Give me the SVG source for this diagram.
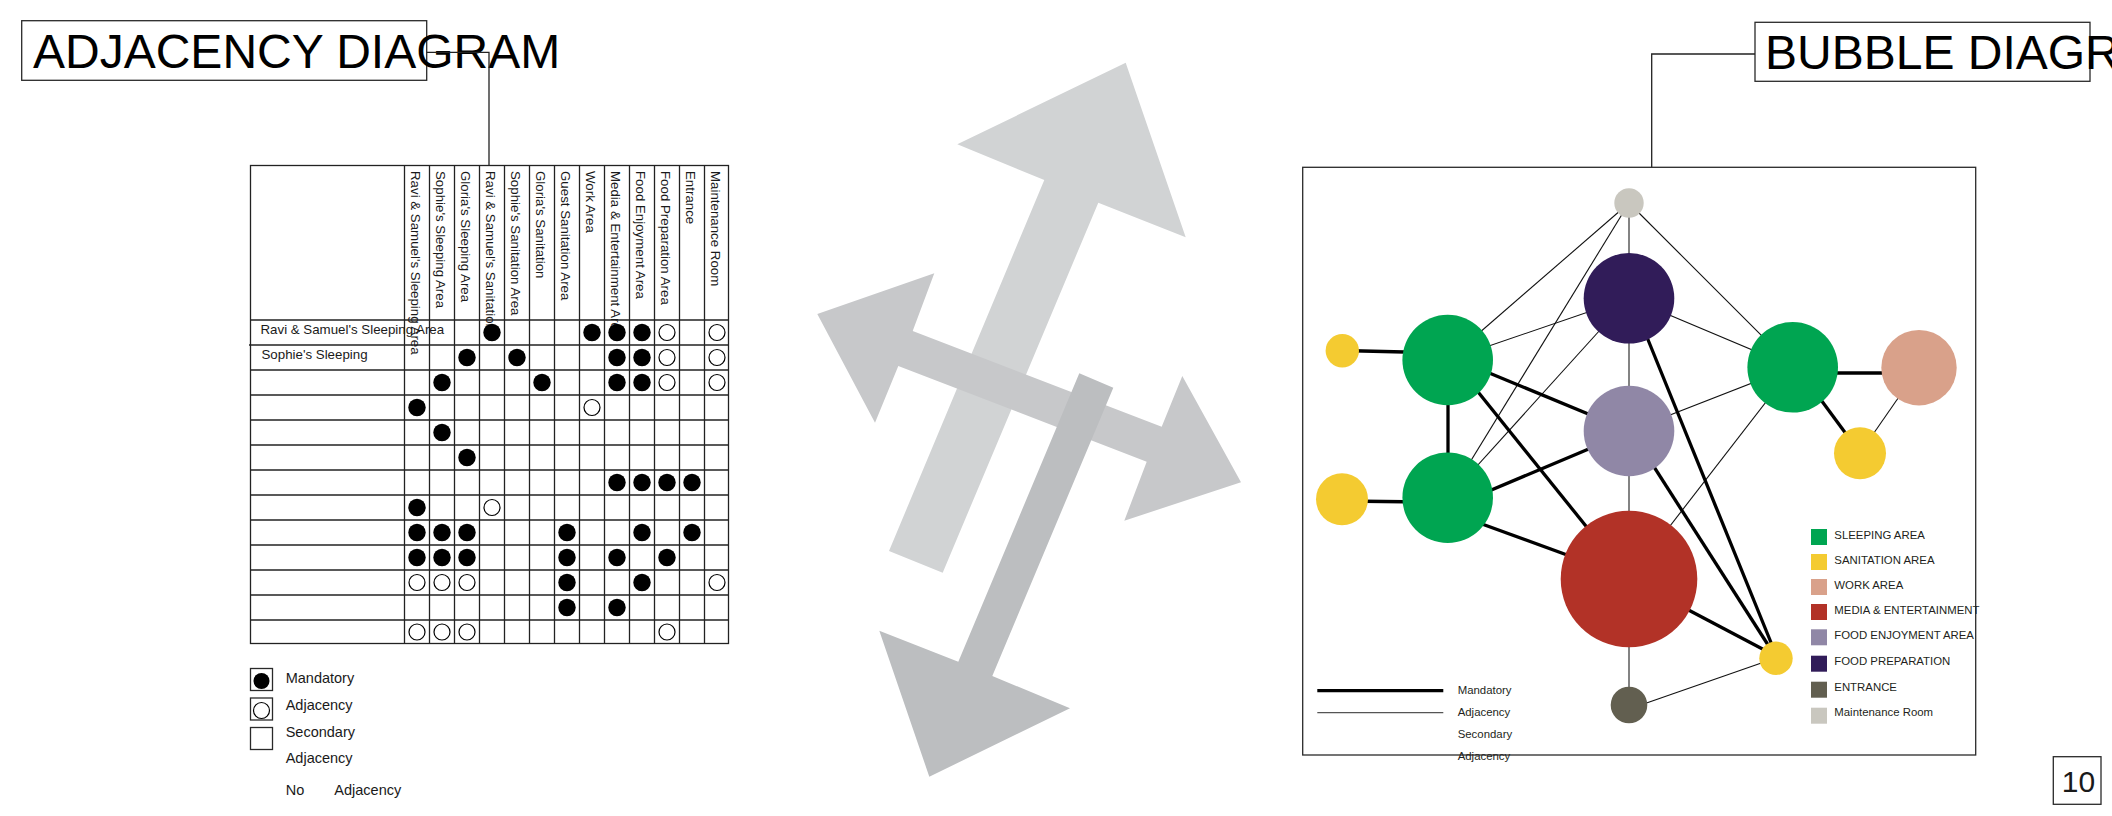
<svg xmlns="http://www.w3.org/2000/svg" width="2112" height="816" viewBox="0 0 2112 816">
<style>
.t{font-family:"Liberation Sans",Arial,Helvetica,sans-serif;fill:#1a1a1a}
.title{font-size:48px;fill:#000}
.sm{font-size:13.3px}
.lg{font-size:14.5px}
.bl{font-size:11.4px;fill:#231f20}
.box{fill:none;stroke:#2a2a2a;stroke-width:1.3}
.grid line{stroke:#222;stroke-width:1.3}
.f{fill:#000}
.o{fill:#fff;stroke:#000;stroke-width:1.2}
.thick{stroke:#000;stroke-width:3.3;fill:none}
.thin{stroke:#111;stroke-width:1.1;fill:none}
.vert{stroke:#5a5a5a;stroke-width:1.5;fill:none}
.sleep{fill:#00a551}.san{fill:#f4cb31}.work{fill:#d9a18a}.media{fill:#b23227}
.enjoy{fill:#9087a6}.prep{fill:#311c59}.entr{fill:#625f50}.maint{fill:#c9c7bf}
</style>
<rect width="2112" height="816" fill="#fff"/>

<!-- ADJACENCY TITLE -->
<g id="adjacency-title">
<rect class="box" x="21.7" y="20.7" width="405" height="59.6" fill="#fff"/>
<text class="t title" x="33" y="67.7">ADJACENCY DIAGRAM</text>
<polyline points="426.7,52.3 489,52.3 489,165.7" fill="none" stroke="#222" stroke-width="1.3"/>
</g>

<!-- ADJACENCY MATRIX -->
<g id="adjacency-matrix">
<g class="grid">
<rect x="250.5" y="165.5" width="478" height="478" fill="none" stroke="#222" stroke-width="1.3"/>
<line x1="404.5" y1="165.5" x2="404.5" y2="643.5"/>
<line x1="429.5" y1="165.5" x2="429.5" y2="643.5"/>
<line x1="454.5" y1="165.5" x2="454.5" y2="643.5"/>
<line x1="479.5" y1="165.5" x2="479.5" y2="643.5"/>
<line x1="504.5" y1="165.5" x2="504.5" y2="643.5"/>
<line x1="529.5" y1="165.5" x2="529.5" y2="643.5"/>
<line x1="554.5" y1="165.5" x2="554.5" y2="643.5"/>
<line x1="579.5" y1="165.5" x2="579.5" y2="643.5"/>
<line x1="604.5" y1="165.5" x2="604.5" y2="643.5"/>
<line x1="629.5" y1="165.5" x2="629.5" y2="643.5"/>
<line x1="654.5" y1="165.5" x2="654.5" y2="643.5"/>
<line x1="679.5" y1="165.5" x2="679.5" y2="643.5"/>
<line x1="704.5" y1="165.5" x2="704.5" y2="643.5"/>
<line x1="250.5" y1="320" x2="728.5" y2="320"/>
<line x1="249" y1="345" x2="728.5" y2="345"/>
<line x1="250.5" y1="370" x2="728.5" y2="370"/>
<line x1="250.5" y1="395" x2="728.5" y2="395"/>
<line x1="250.5" y1="420" x2="728.5" y2="420"/>
<line x1="250.5" y1="445" x2="728.5" y2="445"/>
<line x1="250.5" y1="470" x2="728.5" y2="470"/>
<line x1="250.5" y1="495" x2="728.5" y2="495"/>
<line x1="250.5" y1="520" x2="728.5" y2="520"/>
<line x1="250.5" y1="545" x2="728.5" y2="545"/>
<line x1="250.5" y1="570" x2="728.5" y2="570"/>
<line x1="250.5" y1="595" x2="728.5" y2="595"/>
<line x1="250.5" y1="620" x2="728.5" y2="620"/>
</g>
<g class="t sm">
<text transform="translate(411,171) rotate(90)">Ravi &amp; Samuel's Sleeping Area</text>
<text transform="translate(436,171) rotate(90)">Sophie's Sleeping Area</text>
<text transform="translate(461,171) rotate(90)">Gloria's Sleeping Area</text>
<text transform="translate(486,171) rotate(90)">Ravi &amp; Samuel's Sanitation</text>
<text transform="translate(511,171) rotate(90)">Sophie's Sanitation Area</text>
<text transform="translate(536,171) rotate(90)">Gloria's Sanitation</text>
<text transform="translate(561,171) rotate(90)">Guest Sanitation Area</text>
<text transform="translate(586,171) rotate(90)">Work Area</text>
<text transform="translate(611,171) rotate(90)">Media &amp; Entertainment Area</text>
<text transform="translate(636,171) rotate(90)">Food Enjoyment Area</text>
<text transform="translate(661,171) rotate(90)">Food Preparation Area</text>
<text transform="translate(686,171) rotate(90)">Entrance</text>
<text transform="translate(711,171) rotate(90)">Maintenance Room</text>
<text x="260.5" y="334">Ravi &amp; Samuel's Sleeping Area</text>
<text x="261.5" y="359">Sophie's Sleeping</text>
</g>
<g id="matrix-marks">
<circle class="f" cx="492" cy="332.5" r="8.7"/><circle class="f" cx="592" cy="332.5" r="8.7"/><circle class="f" cx="617" cy="332.5" r="8.7"/><circle class="f" cx="642" cy="332.5" r="8.7"/><circle class="o" cx="667" cy="332.5" r="8"/><circle class="o" cx="717" cy="332.5" r="8"/>
<circle class="f" cx="467" cy="357.5" r="8.7"/><circle class="f" cx="517" cy="357.5" r="8.7"/><circle class="f" cx="617" cy="357.5" r="8.7"/><circle class="f" cx="642" cy="357.5" r="8.7"/><circle class="o" cx="667" cy="357.5" r="8"/><circle class="o" cx="717" cy="357.5" r="8"/>
<circle class="f" cx="442" cy="382.5" r="8.7"/><circle class="f" cx="542" cy="382.5" r="8.7"/><circle class="f" cx="617" cy="382.5" r="8.7"/><circle class="f" cx="642" cy="382.5" r="8.7"/><circle class="o" cx="667" cy="382.5" r="8"/><circle class="o" cx="717" cy="382.5" r="8"/>
<circle class="f" cx="417" cy="407.5" r="8.7"/><circle class="o" cx="592" cy="407.5" r="8"/>
<circle class="f" cx="442" cy="432.5" r="8.7"/>
<circle class="f" cx="467" cy="457.5" r="8.7"/>
<circle class="f" cx="617" cy="482.5" r="8.7"/><circle class="f" cx="642" cy="482.5" r="8.7"/><circle class="f" cx="667" cy="482.5" r="8.7"/><circle class="f" cx="692" cy="482.5" r="8.7"/>
<circle class="f" cx="417" cy="507.5" r="8.7"/><circle class="o" cx="492" cy="507.5" r="8"/>
<circle class="f" cx="417" cy="532.5" r="8.7"/><circle class="f" cx="442" cy="532.5" r="8.7"/><circle class="f" cx="467" cy="532.5" r="8.7"/><circle class="f" cx="567" cy="532.5" r="8.7"/><circle class="f" cx="642" cy="532.5" r="8.7"/><circle class="f" cx="692" cy="532.5" r="8.7"/>
<circle class="f" cx="417" cy="557.5" r="8.7"/><circle class="f" cx="442" cy="557.5" r="8.7"/><circle class="f" cx="467" cy="557.5" r="8.7"/><circle class="f" cx="567" cy="557.5" r="8.7"/><circle class="f" cx="617" cy="557.5" r="8.7"/><circle class="f" cx="667" cy="557.5" r="8.7"/>
<circle class="o" cx="417" cy="582.5" r="8"/><circle class="o" cx="442" cy="582.5" r="8"/><circle class="o" cx="467" cy="582.5" r="8"/><circle class="f" cx="567" cy="582.5" r="8.7"/><circle class="f" cx="642" cy="582.5" r="8.7"/><circle class="o" cx="717" cy="582.5" r="8"/>
<circle class="f" cx="567" cy="607.5" r="8.7"/><circle class="f" cx="617" cy="607.5" r="8.7"/>
<circle class="o" cx="417" cy="632" r="8"/><circle class="o" cx="442" cy="632" r="8"/><circle class="o" cx="467" cy="632" r="8"/><circle class="o" cx="667" cy="632" r="8"/>
</g>
</g>

<!-- ADJACENCY LEGEND -->
<g id="adjacency-legend">
<rect class="box" x="250.5" y="668.5" width="22" height="22"/>
<circle class="f" cx="261.5" cy="681" r="8"/>
<rect class="box" x="250.5" y="698" width="22" height="22"/>
<circle class="o" cx="261.5" cy="710.5" r="8"/>
<rect class="box" x="250.5" y="727.5" width="22" height="22"/>
<g class="t lg">
<text x="285.7" y="683.3">Mandatory</text>
<text x="285.7" y="710">Adjacency</text>
<text x="285.7" y="736.7">Secondary</text>
<text x="285.7" y="763.3">Adjacency</text>
<text x="285.7" y="795">No</text>
<text x="334.3" y="795">Adjacency</text>
</g>
</g>

<!-- CENTRAL ARROWS -->
<g id="arrows">
<polygon id="arrow-up" fill="#d1d3d4" points="1125.7,62.7 1185.7,237.3 1098.3,202.7 942.7,572.7 889,551 1044.3,180 957.3,144.3"/>
<polygon id="arrow-horizontal" fill="#c7c8ca" points="817.3,314 934.3,273.3 912.7,331 1161.7,426.7 1182.3,376 1241,482.3 1124.3,520.7 1146.7,461.7 898.3,366 875,422.7"/>
<polygon id="arrow-down" fill="#bcbec0" points="1079.3,373.3 1113.3,387.7 992.3,676 1070,708.3 929.3,776.7 879.3,630.7 958.3,661.7"/>
</g>

<!-- BUBBLE TITLE -->
<g id="bubble-title">
<rect class="box" x="1755" y="22.3" width="335" height="59" fill="#fff"/>
<text class="t title" x="1765" y="69.3">BUBBLE DIAGRAM</text>
<polyline points="1755,54 1651.7,54 1651.7,167.3" fill="none" stroke="#222" stroke-width="1.3"/>
</g>

<rect id="bubble-frame" class="box" x="1302.7" y="167.3" width="673" height="587.7"/>

<!-- CONNECTORS -->
<g id="connectors">
<line class="thin" x1="1629" y1="203" x2="1448" y2="360"/>
<line class="thin" x1="1629" y1="203" x2="1448" y2="498"/>
<line class="thin" x1="1629" y1="203" x2="1793" y2="367"/>
<line class="vert" x1="1629" y1="203" x2="1629" y2="298"/>
<line class="thin" x1="1629" y1="298" x2="1448" y2="360"/>
<line class="thin" x1="1629" y1="298" x2="1793" y2="367"/>
<line class="thin" x1="1629" y1="298" x2="1448" y2="498"/>
<line class="vert" x1="1629" y1="298" x2="1629" y2="431"/>
<line class="thin" x1="1629" y1="431" x2="1793" y2="367"/>
<line class="vert" x1="1629" y1="431" x2="1629" y2="579"/>
<line class="thin" x1="1629" y1="579" x2="1793" y2="367"/>
<line class="vert" x1="1629" y1="579" x2="1629" y2="705"/>
<line class="thin" x1="1635" y1="707" x2="1770" y2="660"/>
<line class="thin" x1="1919" y1="368" x2="1860" y2="453"/>
<line class="thick" x1="1342" y1="350.5" x2="1425" y2="352.5"/>
<line class="thick" x1="1448" y1="360" x2="1448" y2="498"/>
<line class="thick" x1="1470" y1="365" x2="1610" y2="423"/>
<line class="thick" x1="1450" y1="357" x2="1610" y2="556"/>
<line class="thick" x1="1470" y1="499" x2="1610" y2="440"/>
<line class="thick" x1="1460" y1="516" x2="1600" y2="567"/>
<line class="thick" x1="1342" y1="501" x2="1425" y2="502"/>
<line class="thick" x1="1640" y1="320" x2="1772" y2="645"/>
<line class="thick" x1="1640" y1="445" x2="1770" y2="648"/>
<line class="thick" x1="1660" y1="595" x2="1772" y2="654"/>
<line class="thick" x1="1830" y1="373" x2="1890" y2="373"/>
<line class="thick" x1="1810" y1="385" x2="1855" y2="446"/>
</g>

<!-- BUBBLE NODES -->
<g id="node-maintenance"><circle class="maint" cx="1629" cy="203" r="14.7"/></g>
<g id="node-food-preparation"><circle class="prep" cx="1629" cy="298.3" r="45.3"/></g>
<g id="node-sleeping-1"><circle class="sleep" cx="1447.7" cy="360" r="45.3"/></g>
<g id="node-sanitation-1"><circle class="san" cx="1342.3" cy="350.7" r="16.7"/></g>
<g id="node-sleeping-2"><circle class="sleep" cx="1792.7" cy="367.3" r="45.3"/></g>
<g id="node-work"><circle class="work" cx="1919" cy="367.7" r="37.7"/></g>
<g id="node-sanitation-2"><circle class="san" cx="1860" cy="453.3" r="26"/></g>
<g id="node-food-enjoyment"><circle class="enjoy" cx="1629" cy="431" r="45.3"/></g>
<g id="node-sleeping-3"><circle class="sleep" cx="1447.7" cy="497.7" r="45.3"/></g>
<g id="node-sanitation-3"><circle class="san" cx="1342" cy="499.3" r="26"/></g>
<g id="node-media"><circle class="media" cx="1629" cy="579" r="68.3"/></g>
<g id="node-entrance"><circle class="entr" cx="1629" cy="705" r="18.3"/></g>
<g id="node-sanitation-4"><circle class="san" cx="1776" cy="658.3" r="16.7"/></g>

<!-- BUBBLE LINE LEGEND -->
<g id="bubble-line-legend">
<line class="thick" x1="1317.3" y1="690.7" x2="1443.3" y2="690.7" stroke-width="3"/>
<line x1="1317.3" y1="712.7" x2="1443.3" y2="712.7" stroke="#555" stroke-width="1.3"/>
<g class="t bl">
<text x="1457.7" y="694">Mandatory</text>
<text x="1457.7" y="716">Adjacency</text>
<text x="1457.7" y="738">Secondary</text>
<text x="1457.7" y="760">Adjacency</text>
</g>
</g>

<!-- BUBBLE COLOUR LEGEND -->
<g id="bubble-colour-legend">
<rect class="sleep" x="1811" y="529" width="16" height="16"/>
<rect class="san" x="1811" y="554" width="16" height="16"/>
<rect class="work" x="1811" y="579" width="16" height="16"/>
<rect class="media" x="1811" y="604" width="16" height="16"/>
<rect class="enjoy" x="1811" y="629.3" width="16" height="16"/>
<rect class="prep" x="1811" y="655.7" width="16" height="16"/>
<rect class="entr" x="1811" y="681.7" width="16" height="16"/>
<rect class="maint" x="1811" y="707.7" width="16" height="16"/>
<g class="t bl">
<text x="1834.3" y="539.3">SLEEPING AREA</text>
<text x="1834.3" y="564.3">SANITATION AREA</text>
<text x="1834.3" y="589.3">WORK AREA</text>
<text x="1834.3" y="614.3">MEDIA &amp; ENTERTAINMENT</text>
<text x="1834.3" y="639.3">FOOD ENJOYMENT AREA</text>
<text x="1834.3" y="665">FOOD PREPARATION</text>
<text x="1834.3" y="691">ENTRANCE</text>
<text x="1834.3" y="716">Maintenance Room</text>
</g>
</g>

<!-- PAGE NUMBER -->
<g id="page-number">
<rect class="box" x="2053.3" y="756.7" width="47.7" height="47.6"/>
<text class="t" x="2078.5" y="791.7" font-size="30" text-anchor="middle" fill="#000">10</text>
</g>
</svg>
